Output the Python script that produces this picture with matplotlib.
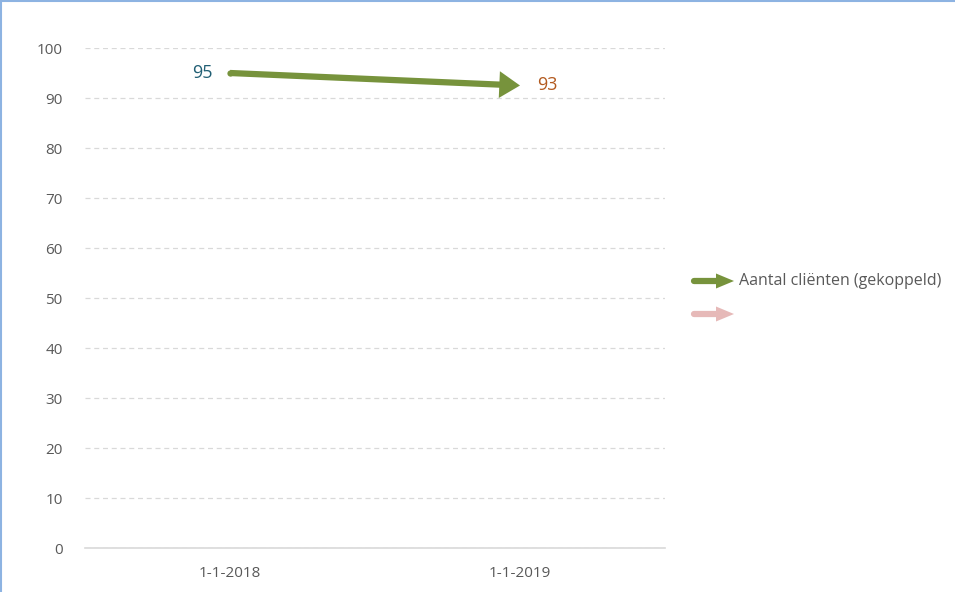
import matplotlib.pyplot as plt
from matplotlib.lines import Line2D
from matplotlib.patches import Polygon

# data
dates = ["1-1-2018", "1-1-2019"]
clients = [95, 92.5]
labels = ["95", "93"]
label_colors = ["#215F74", "#B35A1F"]
series_name = "Aantal cliënten (gekoppeld)"
yticks = list(range(0, 101, 10))

plt.rcParams['font.family'] = ['Open Sans', 'DejaVu Sans']
grey = "#595959"
green = "#77933C"
pink = "#E6B9B8"

fig = plt.figure(figsize=(9.55, 5.92), dpi=100)
ax = fig.add_axes([85/955, 1-548/592, 580/955, 500/592])

x = list(range(len(dates)))
ax.set_xlim(-0.5, len(dates) - 0.5)
ax.set_ylim(0, 100)

# the arrow line
ax.annotate("", xy=(x[1], clients[1]), xytext=(x[0], clients[0]),
            arrowprops=dict(arrowstyle="-|>,head_length=0.85,head_width=0.55",
                            color=green, lw=4.5, shrinkA=0, shrinkB=0,
                            capstyle="butt", joinstyle="miter"))
ax.plot([x[0]], [clients[0]], "o", color=green, ms=4.5, mec="none")

# data labels
ax.text(x[0] - 0.06, clients[0], labels[0], color=label_colors[0], fontsize=13,
        ha="right", va="center")
ax.text(x[1] + 0.06, clients[1], labels[1], color=label_colors[1], fontsize=13,
        ha="left", va="center")

# grid and axes
ax.set_yticks(yticks)
ax.set_xticks(x)
ax.set_xticklabels(dates)
ax.yaxis.grid(True, color="#D9D9D9", linestyle=(0, (4, 3)), lw=0.9)
ax.set_axisbelow(True)
for s in ["top", "right", "left"]:
    ax.spines[s].set_visible(False)
ax.spines["bottom"].set_color("#D9D9D9")
ax.spines["bottom"].set_linewidth(1.2)
ax.tick_params(length=0, colors=grey, labelsize=11)
ax.tick_params(axis="y", pad=16)
ax.tick_params(axis="x", pad=13)

# legend drawn by hand (pixel positions), arrows outside the axes
W, H = 955, 592
for yy, col in [(281, green), (314, pink)]:
    fig.add_artist(Line2D([694/W, 718/W], [1-yy/H, 1-yy/H], color=col,
                          lw=4.5, solid_capstyle="round"))
    fig.add_artist(Polygon([(716/W, 1-(yy-7.5)/H), (734/W, 1-yy/H),
                            (716/W, 1-(yy+7.5)/H)], closed=True,
                           transform=fig.transFigure, color=col, lw=0))
fig.text(739/W, 1-281/H, series_name, color=grey, fontsize=11.5, va="center")

# blue border at left and top
fig.add_artist(Line2D([1/W, 1/W], [0, 1], color="#8DB3E2", lw=1.5))
fig.add_artist(Line2D([0, 1], [1-1/H, 1-1/H], color="#8DB3E2", lw=1.5))

fig.savefig("out.png", dpi=100)
